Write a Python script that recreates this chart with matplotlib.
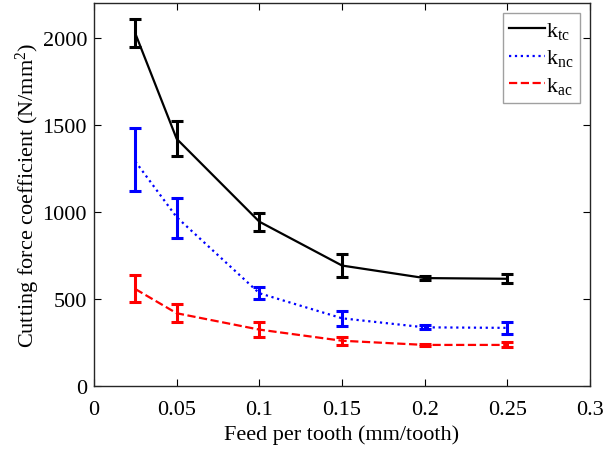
import numpy as np
import matplotlib
matplotlib.use("Agg")
import matplotlib.pyplot as plt

plt.rcParams["font.family"] = ["Liberation Serif", "DejaVu Serif"]
plt.rcParams["mathtext.fontset"] = "custom"
plt.rcParams["mathtext.rm"] = "Liberation Serif"
plt.rcParams["mathtext.it"] = "Liberation Serif:italic"

# feed per tooth (mm/tooth)
feed = [0.025, 0.05, 0.1, 0.15, 0.2, 0.25]

# cutting force coefficients (N/mm^2) and error half-widths
ktc = [2025, 1420, 944, 692, 620, 616]
ktc_lo = [78, 100, 55, 67, 10, 26]
ktc_hi = [82, 100, 52, 67, 10, 28]

knc = [1290, 970, 533, 389, 337, 334]
knc_lo = [170, 120, 33, 46, 12, 38]
knc_hi = [190, 110, 33, 44, 12, 36]

kac = [557, 418, 324, 260, 236, 236]
kac_lo = [76, 52, 41, 23, 7, 14]
kac_hi = [81, 53, 42, 23, 7, 14]

fig = plt.figure(figsize=(6.04, 4.52), dpi=100)
ax = fig.add_axes([0.1556, 0.1438, 0.8214, 0.8472])

series = [
    (ktc, ktc_lo, ktc_hi, "k", "-", r"k$_{\rm tc}$"),
    (knc, knc_lo, knc_hi, "#0000ff", ":", r"k$_{\rm nc}$"),
    (kac, kac_lo, kac_hi, "#ff0000", "--", r"k$_{\rm ac}$"),
]
for vals, lo, hi, col, ls, lab in series:
    ax.errorbar(feed, vals, yerr=[lo, hi], color=col, ls=ls, lw=1.6,
                elinewidth=2.2, capsize=4, capthick=2.2, label=lab)

ax.set_xlim(0, 0.3)
ax.set_ylim(0, 2200)
ax.set_xticks([0, 0.05, 0.1, 0.15, 0.2, 0.25, 0.3])
ax.set_xticklabels(["0", "0.05", "0.1", "0.15", "0.2", "0.25", "0.3"])
ax.set_yticks([0, 500, 1000, 1500, 2000])
ax.tick_params(direction="in", top=True, right=True, labelsize=16, length=5)
ax.tick_params(axis="x", pad=10)
ax.tick_params(axis="y", pad=5)
for s in ax.spines.values():
    s.set_linewidth(1.0)
    s.set_color("#262626")

ax.set_xlabel("Feed per tooth (mm/tooth)", fontsize=16, labelpad=4)
ax.set_ylabel(r"Cutting force coefficient (N/mm$^2$)", fontsize=16,
              labelpad=0.5)

# legend without the errorbar glyphs
handles = [plt.Line2D([], [], color=c, ls=l, lw=1.6) for _, _, _, c, l, _ in series]
labels = [s[5] for s in series]
leg = ax.legend(handles, labels, loc="upper right", fontsize=16,
                fancybox=False, framealpha=1, edgecolor="#a0a0a0",
                handlelength=1.6, handletextpad=0.05, labelspacing=0.3,
                borderpad=0.3, borderaxespad=0.45)

fig.savefig("out.png", dpi=100)
